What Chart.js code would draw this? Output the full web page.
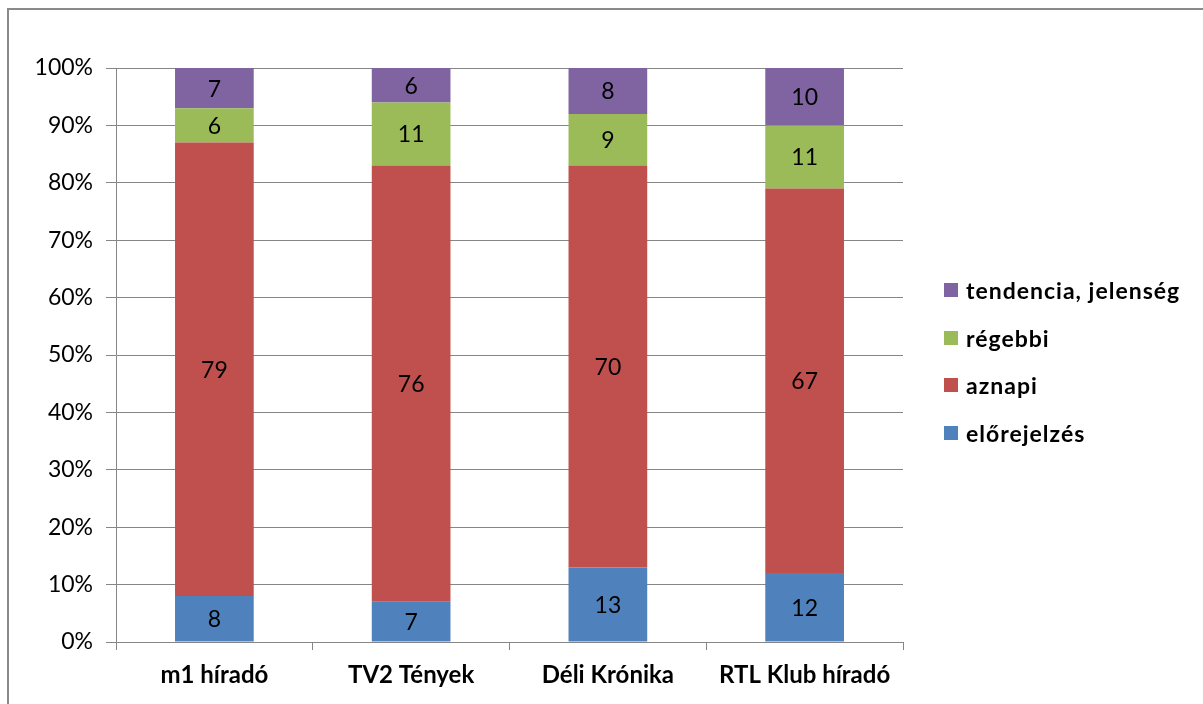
<!DOCTYPE html>
<html>
<head>
<meta charset="utf-8">
<script src="https://cdn.jsdelivr.net/npm/chart.js@4/dist/chart.umd.min.js"></script>
<style>
  body { margin: 0; background: #fff; overflow: hidden; }
  #wrap { position: relative; width: 1203px; height: 704px; }
  #frame { position: absolute; left: 7px; top: 8px; width: 1300px; height: 800px; border: 2px solid #8a8a8a; box-sizing: border-box; }
  #myChart { position: absolute; left: 0; top: 0; }
  #legend { position: absolute; left: 944px; top: 276px; font-family: Lato, "Open Sans", sans-serif; font-weight: bold; font-size: 23px; letter-spacing: 1px; line-height: 28px; color: #000; }
  #legend div { height: 47.5px; display: flex; align-items: flex-start; white-space: nowrap; }
  #legend span.box { display: inline-block; width: 14px; height: 14px; margin: 7px 8px 0 0; }
</style>
</head>
<body>
<div id="wrap">
  <div id="frame"></div>
  <canvas id="myChart" width="1203" height="704"></canvas>
  <div id="legend"></div>
</div>
<script>
const categories = ['m1 híradó', 'TV2 Tények', 'Déli Krónika', 'RTL Klub híradó'];
const seriesNames = ['előrejelzés', 'aznapi', 'régebbi', 'tendencia, jelenség'];
const elorejelzes = [8, 7, 13, 12];
const aznapi = [79, 76, 70, 67];
const regebbi = [6, 11, 9, 11];
const tendencia = [7, 6, 8, 10];
const seriesColors = ['#4F81BD', '#C0504D', '#9BBB59', '#8064A2'];
const yTicks = [0, 10, 20, 30, 40, 50, 60, 70, 80, 90, 100];

const fontFamily = 'Lato, "Open Sans", sans-serif';
const gridColor = '#868686';

// szegmens feliratok a sávok közepére
const barLabels = {
    id: 'barLabels',
    afterDatasetsDraw(chart) {
        const ctx = chart.ctx;
        ctx.save();
        ctx.font = '23px ' + fontFamily;
        ctx.fillStyle = '#000';
        ctx.textAlign = 'center';
        ctx.textBaseline = 'middle';
        chart.data.datasets.forEach((ds, i) => {
            const meta = chart.getDatasetMeta(i);
            meta.data.forEach((bar, j) => {
                const p = bar.getProps(['x', 'y', 'base'], true);
                ctx.fillText(String(ds.data[j]), p.x, (p.y + p.base) / 2 + 1);
            });
        });
        ctx.restore();
    }
};

const allSeries = [elorejelzes, aznapi, regebbi, tendencia];

const ctx = document.getElementById('myChart').getContext('2d');
const chart = new Chart(ctx, {
    type: 'bar',
    data: {
        labels: categories,
        datasets: allSeries.map((d, i) => ({
            label: seriesNames[i],
            data: d,
            backgroundColor: seriesColors[i],
            borderWidth: 0,
            categoryPercentage: 1,
            barPercentage: 0.4
        }))
    },
    options: {
        responsive: false,
        animation: false,
        layout: { padding: { left: 0, top: 68, right: 300, bottom: 0 } },
        plugins: {
            legend: { display: false },
            tooltip: { enabled: false }
        },
        scales: {
            x: {
                stacked: true,
                afterFit(s) { s.height = 62; },
                grid: {
                    offset: true,
                    drawOnChartArea: false,
                    drawTicks: true,
                    tickLength: 8,
                    color: gridColor
                },
                border: { display: true, color: gridColor, width: 1 },
                ticks: {
                    padding: 11,
                    color: '#000',
                    font: { family: fontFamily, size: 24, weight: 'bold' }
                }
            },
            y: {
                stacked: true,
                min: 0,
                max: 100,
                afterFit(s) { s.width = 116; },
                afterBuildTicks(s) { s.ticks = yTicks.map(v => ({ value: v })); },
                grid: {
                    color: gridColor,
                    drawTicks: true,
                    tickLength: 10
                },
                border: { display: true, color: gridColor, width: 1 },
                ticks: {
                    padding: 13,
                    color: '#000',
                    font: { family: fontFamily, size: 23 },
                    callback: v => v + '%'
                }
            }
        }
    },
    plugins: [barLabels]
});

// jelmagyarázat fordított sorrendben
const legendEl = document.getElementById('legend');
chart.data.datasets.slice().reverse().forEach(ds => {
    const row = document.createElement('div');
    const box = document.createElement('span');
    box.className = 'box';
    box.style.background = ds.backgroundColor;
    row.appendChild(box);
    row.appendChild(document.createTextNode(ds.label));
    legendEl.appendChild(row);
});
</script>
</body>
</html>
